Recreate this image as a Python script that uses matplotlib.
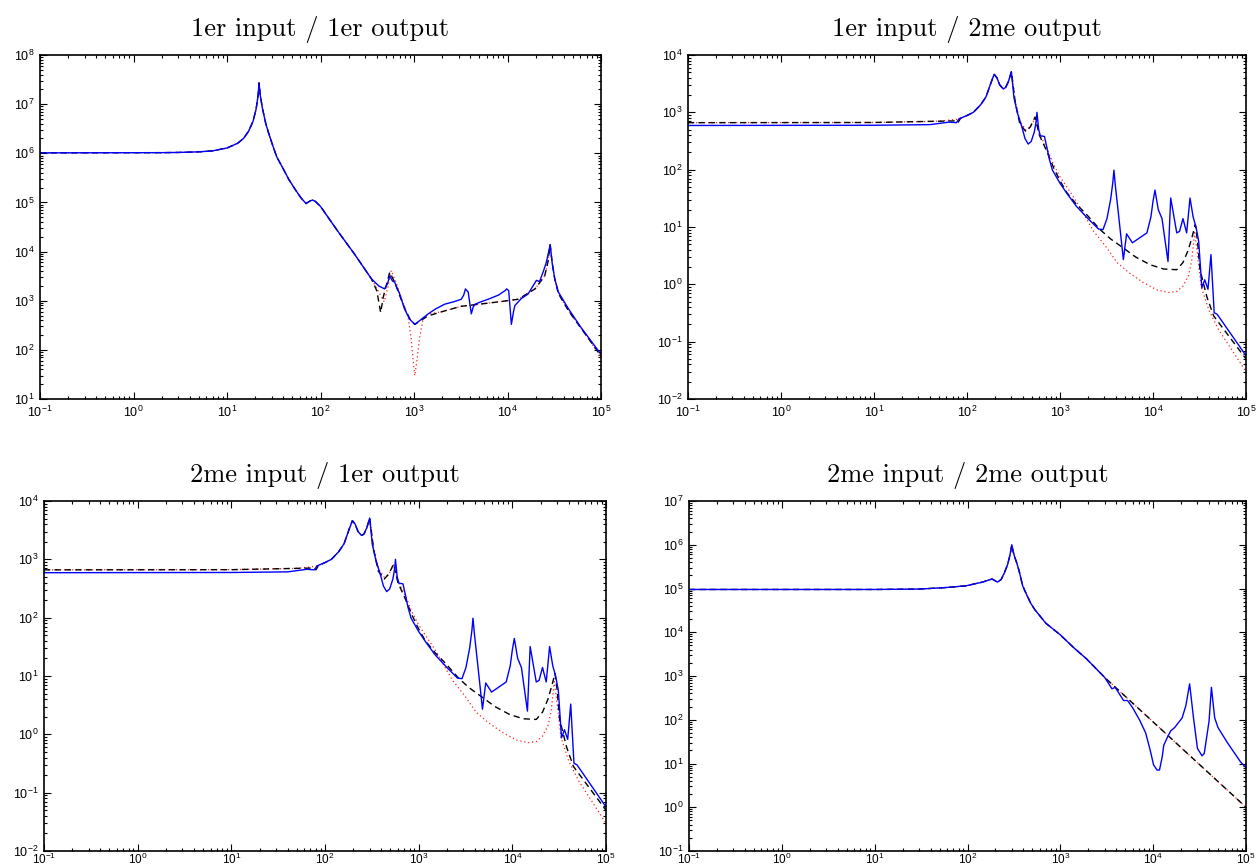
import matplotlib
matplotlib.use("Agg")
import matplotlib.pyplot as plt
from matplotlib.ticker import LogLocator, LogFormatterSciNotation, NullFormatter

plt.rcParams['font.family'] = ['Liberation Sans', 'DejaVu Sans']
plt.rcParams['mathtext.fontset'] = 'custom'
plt.rcParams['mathtext.rm'] = 'Liberation Sans'
plt.rcParams['mathtext.it'] = 'Liberation Sans:italic'
plt.rcParams['mathtext.bf'] = 'Liberation Sans:bold'

# ---------------- data ----------------
titles = ["1er input / 1er output", "1er input / 2me output",
          "2me input / 1er output", "2me input / 2me output"]

# Panel 1 : 1er input / 1er output
f1_low = [0.1, 2, 3, 5, 7, 10, 13, 15, 17, 19, 20.5, 21.5, 22, 22.7, 24, 26, 28, 31, 34, 40,
          46, 54, 62, 70, 76, 82, 88, 100, 153, 230, 350]
v1_low = [1.02e6, 1.03e6, 1.04e6, 1.07e6, 1.12e6, 1.28e6, 1.6e6, 2.0e6, 2.8e6, 4.5e6, 8e6, 1.5e7, 2.7e7,
          1.5e7, 8e6, 4e6, 2.5e6, 1.4e6, 8.5e5, 4.8e5, 2.9e5, 1.8e5, 1.23e5, 9.5e4, 1.05e5, 1.12e5, 1.05e5,
          8.3e4, 2.6e4, 9.0e3, 2.8e3]
f1_blue = f1_low + [420, 484, 520, 550, 590, 620, 700, 795, 900, 1020, 1200, 1410, 1700, 2130, 2700, 3200,
                    3400, 3550, 3800, 4100, 4300, 4500, 5200, 6200, 8000, 9400, 9800, 10300, 11000, 11600,
                    12000, 14000, 16600, 20400, 22000, 24000, 26000, 28600, 30000, 32000, 35000, 45000,
                    60000, 100000]
v1_blue = v1_low + [2.0e3, 1.74e3, 2.2e3, 3.2e3, 2.5e3, 2.4e3, 1.4e3, 670, 420, 330, 420, 535, 680, 850,
                    960, 1.07e3, 1.3e3, 1.74e3, 1.5e3, 540, 750, 850, 950, 1.07e3, 1.3e3, 1.6e3, 1.74e3,
                    1.6e3, 330, 600, 800, 1.1e3, 1.37e3, 2.6e3, 2.45e3, 3.8e3, 6e3, 1.37e4, 6e3, 2.8e3,
                    1.5e3, 680, 300, 81]
f1_black = f1_low + [400, 440, 470, 510, 550, 620, 700, 795, 900, 1020, 1410, 2000, 3200, 5000, 7400,
                     13000, 19700, 25000, 27000, 28600, 30000, 32000, 35000, 45000, 60000, 100000]
v1_black = v1_low + [1.6e3, 575, 1.2e3, 2.2e3, 3.8e3, 2.4e3, 1.3e3, 700, 430, 330, 490, 600, 770, 850,
                     930, 1.07e3, 1.74e3, 3.2e3, 6e3, 1.37e4, 6e3, 2.8e3, 1.4e3, 620, 290, 75]
f1_red = f1_low + [420, 480, 530, 570, 640, 750, 860, 930, 975, 1020, 1080, 1150, 1250, 1410, 2000, 3200,
                   5000, 7400, 13000, 19700, 25000, 27000, 28600, 30000, 32000, 35000, 45000, 60000, 100000]
v1_red = v1_low + [1.5e3, 950, 2.0e3, 4.1e3, 2.4e3, 1.0e3, 490, 180, 65, 30, 65, 180, 430, 535, 600, 770,
                   850, 930, 1.07e3, 1.74e3, 3.2e3, 6e3, 1.37e4, 6e3, 2.8e3, 1.4e3, 620, 290, 72]

# Panels 2 and 3 : cross terms (identical)
f2_blue = [0.1, 10, 40, 64, 77, 82, 100, 117, 140, 160, 180, 196, 210, 225, 245, 260, 280, 300, 320, 350,
           390, 420, 455, 490, 530, 555, 565, 590, 615, 680, 720, 770, 830, 1000, 1180, 1500, 2000, 2600,
           2900, 3200, 3500, 3700, 3800, 3950, 4250, 4800, 5200, 6000, 8600, 9500, 10000, 10500, 11400,
           12500, 14500, 15500, 18000, 19300, 21000, 23000, 25000, 27000, 29000, 31000, 33500, 36000,
           39000, 42000, 45500, 49000, 100000]
v2_blue = [590, 595, 610, 675, 660, 770, 880, 1000, 1350, 1860, 3200, 4600, 4000, 3000, 2570, 2700, 3500,
           5100, 1800, 950, 550, 350, 280, 310, 457, 700, 1000, 500, 390, 380, 250, 150, 98, 58, 39, 23,
           14, 9.2, 9.0, 14, 30, 60, 98, 50, 17, 2.7, 7.6, 5.3, 7.9, 15, 28, 44, 20, 14, 2.5, 32, 7.9,
           8.4, 14, 7.9, 32, 15, 10, 5.6, 0.87, 1.2, 0.82, 3.3, 0.32, 0.3, 0.057]
f2_black = [0.1, 10, 50, 76, 80, 85, 100, 117, 140, 160, 180, 196, 210, 225, 245, 260, 280, 300, 330, 370,
            430, 480, 540, 600, 720, 850, 990, 1180, 1500, 1900, 2700, 3500, 4800, 6500, 9300, 13000,
            18000, 21000, 24000, 26500, 28500, 30000, 32000, 38000, 45000, 100000]
v2_black = [660, 665, 700, 710, 660, 780, 880, 1000, 1350, 1860, 3200, 4600, 4000, 3000, 2570, 2700,
            3500, 5100, 1500, 630, 460, 560, 830, 400, 210, 110, 66, 40, 25, 17, 9, 6.2, 4.3, 3.0, 2.2,
            1.85, 1.8, 2.4, 4.0, 7, 11, 6, 1.8, 0.6, 0.28, 0.05]
f2_red = [0.1, 10, 50, 80, 100, 117, 140, 160, 180, 196, 210, 225, 245, 260, 280, 300, 330, 370, 430, 480,
          540, 600, 720, 850, 1000, 1500, 2300, 3200, 4100, 5500, 7900, 11000, 14700, 18000, 21000, 24000,
          26000, 28000, 30000, 33000, 40000, 51000, 100000]
v2_red = [660, 665, 700, 760, 880, 1000, 1350, 1860, 3200, 4600, 4000, 3000, 2570, 2700, 3500, 5100,
          1600, 700, 490, 560, 800, 420, 240, 125, 75, 28, 8.4, 4.3, 2.4, 1.6, 1.07, 0.8, 0.72, 0.75,
          0.93, 1.4, 2.5, 8.0, 3.5, 0.9, 0.35, 0.16, 0.03]

# Panel 4 : 2me input / 2me output
f4_low = [0.1, 10, 30, 58, 96, 145, 184, 210, 230, 250, 270, 285, 295, 300, 310, 325, 340, 360, 393, 430,
          480, 530, 700, 1000, 1400, 1900]
v4_low = [9.5e4, 9.5e4, 9.7e4, 1.05e5, 1.15e5, 1.4e5, 1.65e5, 1.4e5, 1.6e5, 2.3e5, 3.5e5, 5.5e5, 8e5,
          1e6, 7e5, 5e5, 3.8e5, 2.5e5, 1.15e5, 7.5e4, 4.6e4, 3.3e4, 1.6e4, 8.7e3, 4.4e3, 2.5e3]
f4_blue = f4_low + [3000, 3600, 3900, 4800, 5300, 6000, 7200, 8300, 9300, 10100, 11000, 11700, 12500,
                    13000, 14400, 15500, 17000, 20500, 22500, 24700, 27200, 30000, 33600, 35500, 40000,
                    42400, 46000, 50000, 63000, 87000, 100000]
v4_blue = v4_low + [930, 510, 550, 275, 275, 190, 95, 50, 20, 9.3, 7.1, 7.1, 14, 26, 42, 56, 66, 110,
                    210, 660, 110, 22, 15, 17, 93, 550, 110, 66, 30, 11, 8]
f4_black = f4_low + [3000, 10000, 100000]
v4_black = v4_low + [930, 89, 1.0]
f4_red = f4_black
v4_red = v4_black

ylims = [(1e1, 1e8), (1e-2, 1e4), (1e-2, 1e4), (1e-1, 1e7)]
xlim = (1e-1, 1e5)

series = [
    (f1_red, v1_red, f1_black, v1_black, f1_blue, v1_blue),
    (f2_red, v2_red, f2_black, v2_black, f2_blue, v2_blue),
    (f2_red, v2_red, f2_black, v2_black, f2_blue, v2_blue),
    (f4_red, v4_red, f4_black, v4_black, f4_blue, v4_blue),
]

# ---------------- figure ----------------
W, H = 1256, 866
fig = plt.figure(figsize=(W / 100, H / 100), dpi=100)
boxes = [
    (40, 55, 601, 399),
    (688, 55, 1246, 399),
    (44, 501, 606, 851),
    (689, 501, 1246, 851),
]

for i, (x0, y0, x1, y1) in enumerate(boxes):
    ax = fig.add_axes([x0 / W, 1 - y1 / H, (x1 - x0) / W, (y1 - y0) / H])
    fr, vr, fk, vk, fb, vb = series[i]
    ax.plot(fr, vr, color='#ff2020', lw=0.9, linestyle=(0, (1, 2.2)))
    ax.plot(fk, vk, color='black', lw=1.0, linestyle=(0, (4.5, 3.0)))
    ax.plot(fb, vb, color='#0000ff', lw=1.0)
    ax.set_xscale('log')
    ax.set_yscale('log')
    ax.set_xlim(*xlim)
    ax.set_ylim(*ylims[i])
    for axis in (ax.xaxis, ax.yaxis):
        axis.set_major_locator(LogLocator(base=10, numticks=30))
        axis.set_minor_locator(LogLocator(base=10, subs=range(2, 10), numticks=30))
        axis.set_major_formatter(LogFormatterSciNotation())
        axis.set_minor_formatter(NullFormatter())
    ax.tick_params(which='both', direction='in', top=True, right=True, labelsize=9, width=0.8)
    ax.tick_params(which='major', length=5, pad=4)
    ax.tick_params(which='minor', length=2.5)
    if i >= 2:
        ax.tick_params(axis='x', which='major', pad=0.5, labelsize=8.5)
    for s in ax.spines.values():
        s.set_linewidth(1.2)
    ax.set_title(titles[i], fontfamily='cmr10', fontsize=19, pad=14)

fig.savefig('out.png', dpi=100)
